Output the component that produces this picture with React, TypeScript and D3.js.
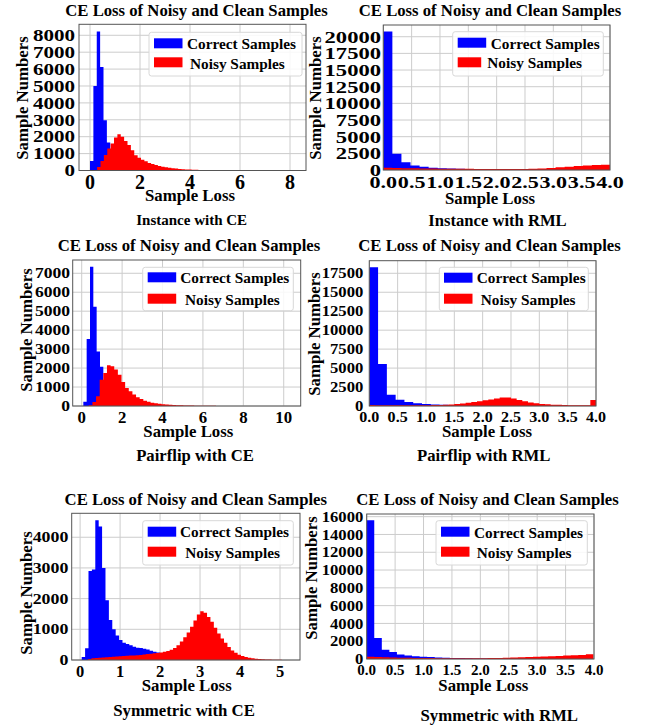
import React from 'react';
import * as d3 from 'd3';

const FONT = '"Liberation Serif", "Times New Roman", Times, serif';
const BLUE = '#0000ff';
const RED = '#ff0000';

// ---- Instance with CE ----
const instCeXTicks = [0, 2, 4, 6, 8];
const instCeYTicks = [0, 1000, 2000, 3000, 4000, 5000, 6000, 7000, 8000];
const instCeBlueStart = 0;
const instCeBlueWidth = 0.135;
const instCeBlue = [560, 5000, 8220, 6120, 2970, 1650, 820, 420, 210, 110, 55, 25, 12, 6];
const instCeRedStart = 0.15;
const instCeRedWidth = 0.135;
const instCeRed = [
  30, 200, 560, 920, 1300, 1600, 1950, 2140, 1990, 1750,
  1510, 1200, 900, 760, 640, 540, 450, 380, 320, 270,
  225, 190, 160, 135, 112, 93, 78, 65, 54, 45,
  38, 32, 27, 22, 18, 15, 12, 10, 8, 7,
  6, 5, 4, 3, 3, 2, 2, 2, 1, 1,
  1, 1, 1, 1, 1, 1, 1, 1, 1, 1,
];

// ---- Instance with RML ----
const rmlXTicks = [0, 0.5, 1, 1.5, 2, 2.5, 3, 3.5, 4];
const instRmlYTicks = [0, 2500, 5000, 7500, 10000, 12500, 15000, 17500, 20000];
const instRmlBlueStart = 0;
const instRmlBlueWidth = 0.16;
const instRmlBlue = [20800, 2450, 1150, 680, 480, 350, 260, 210, 170, 130, 100, 80, 60, 45, 35, 25, 20, 15, 10, 8, 6, 5, 4, 3, 2];
const instRmlRedStart = 0;
const instRmlRedWidth = 0.16;
const instRmlRed = [320, 300, 280, 250, 230, 210, 200, 190, 180, 170, 160, 155, 150, 150, 150, 160, 190, 240, 310, 400, 500, 600, 680, 750, 800];

// ---- Pairflip with CE ----
const pairCeXTicks = [0, 2, 4, 6, 8, 10];
const pairCeYTicks = [0, 1000, 2000, 3000, 4000, 5000, 6000, 7000];
const pairCeBlueStart = 0.08;
const pairCeBlueWidth = 0.165;
const pairCeBlue = [230, 3540, 7350, 5240, 2870, 2070, 1200, 600, 300, 150, 80, 40, 20, 10];
const pairCeRedStart = 0.35;
const pairCeRedWidth = 0.18;
const pairCeRed = [
  40, 210, 510, 1390, 1740, 2150, 2095, 1920, 1650, 1270,
  950, 775, 600, 460, 370, 280, 230, 175, 140, 115,
  95, 80, 65, 55, 45, 38, 32, 27, 22, 18,
  15, 12, 10, 8, 7, 6, 5, 4, 3, 3,
  2, 2, 2, 1, 1, 1, 1, 1, 1, 1,
  1, 1, 1, 1, 1, 1,
];

// ---- Pairflip with RML ----
const pairRmlYTicks = [0, 2500, 5000, 7500, 10000, 12500, 15000, 17500];
const pairRmlBlueStart = 0;
const pairRmlBlueWidth = 0.155;
const pairRmlBlue = [18290, 5540, 1490, 830, 530, 350, 260, 200, 150, 110, 80, 60, 45, 35, 25, 20, 15, 12, 10, 8, 6, 5, 4, 3, 2, 2];
const pairRmlRedStart = 0;
const pairRmlRedWidth = 0.1;
const pairRmlRed = [
  120, 110, 100, 95, 90, 85, 85, 85, 90, 95,
  105, 120, 140, 170, 210, 260, 330, 420, 520, 620,
  760, 860, 980, 1130, 1120, 980, 800, 620, 470, 360,
  280, 220, 180, 150, 130, 115, 105, 100, 100, 800,
];

// ---- Symmetric with CE ----
const symCeXTicks = [0, 1, 2, 3, 4, 5];
const symCeYTicks = [0, 1000, 2000, 3000, 4000];
const symCeBlueStart = 0.04;
const symCeBlueWidth = 0.085;
const symCeBlue = [
  100, 380, 2900, 2950, 4550, 4350, 3000, 1950, 1300, 1000,
  800, 650, 560, 520, 480, 430, 400, 390, 370, 340,
  300, 270, 245, 225, 200, 170, 140, 110, 90, 70,
  50, 35, 25, 15, 10, 6, 4, 2, 1,
];
const symCeRedStart = 0.2;
const symCeRedWidth = 0.085;
const symCeRed = [
  30, 55, 65, 75, 80, 90, 95, 105, 110, 120,
  128, 135, 143, 150, 158, 165, 180, 192, 203, 218,
  232, 248, 268, 290, 330, 395, 480, 600, 740, 900,
  1080, 1290, 1480, 1590, 1540, 1400, 1250, 1050, 860, 700,
  560, 420, 310, 240, 175, 130, 95, 72, 55, 42,
  32, 25, 19, 14, 10, 8, 6, 4, 3, 2,
];

// ---- Symmetric with RML ----
const symRmlYTicks = [0, 2000, 4000, 6000, 8000, 10000, 12000, 14000, 16000];
const symRmlBlueStart = 0;
const symRmlBlueWidth = 0.133;
const symRmlBlue = [15600, 2360, 1050, 790, 500, 390, 320, 260, 220, 180, 150, 120, 100, 85, 70, 60, 50, 42, 35, 28, 22, 18, 15, 12, 10, 8, 6, 5, 4, 3];
const symRmlRedStart = 0;
const symRmlRedWidth = 0.133;
const symRmlRed = [260, 220, 190, 170, 150, 135, 120, 110, 100, 95, 90, 88, 86, 85, 86, 90, 100, 115, 135, 160, 190, 220, 255, 290, 320, 350, 385, 420, 460, 520];

const TITLE = 'CE Loss of Noisy and Clean Samples';

type Hist = { start: number; width: number; counts: number[] };
type Legend = {
  x: number; y: number; w: number; h: number; px: number; by: number; ry: number;
  bw: number; rw: number; t1: number; t2: number; ty1: number; ty2: number;
};
type PanelCfg = {
  id: string;
  caption: string;
  blue: Hist;
  red: Hist;
  xTicks: number[];
  yTicks: number[];
  xFmt: (v: number) => string;
  plot: [number, number, number, number];
  xDomain: [number, number];
  yMax: number;
  titleX: number; titleY: number;
  yTickRight: number; yTickFont: number; yTickSx: number;
  xTickY: number; xTickFont: number; xTickSx: number;
  xLabelX: number; xLabelY: number;
  yLabelX: number; yLabelY: number;
  capX: number; capY: number; capFont: number;
  legend: Legend;
};

const intFmt = (v: number) => String(v);
const oneFmt = (v: number) => v.toFixed(1);

const panels: PanelCfg[] = [
  {
    id: 'p1', caption: 'Instance with CE',
    blue: { start: instCeBlueStart, width: instCeBlueWidth, counts: instCeBlue },
    red: { start: instCeRedStart, width: instCeRedWidth, counts: instCeRed },
    xTicks: instCeXTicks, yTicks: instCeYTicks, xFmt: intFmt,
    plot: [79, 24.3, 306, 170.5], xDomain: [-0.44, 8.64], yMax: 8650,
    titleX: 196.5, titleY: 10.5,
    yTickRight: 75, yTickFont: 17, yTickSx: 1.24,
    xTickY: 181.7, xTickFont: 20, xTickSx: 1,
    xLabelX: 190, xLabelY: 195.5, yLabelX: 22, yLabelY: 98,
    capX: 191.7, capY: 220, capFont: 15,
    legend: { x: 149, y: 32.3, w: 153, h: 43.7, px: 154, by: 38.3, ry: 57.3, bw: 28.5, rw: 28.5, t1: 187, t2: 190, ty1: 43.3, ty2: 63 },
  },
  {
    id: 'p2', caption: 'Instance with RML',
    blue: { start: instRmlBlueStart, width: instRmlBlueWidth, counts: instRmlBlue },
    red: { start: instRmlRedStart, width: instRmlRedWidth, counts: instRmlRed },
    xTicks: rmlXTicks, yTicks: instRmlYTicks, xFmt: oneFmt,
    plot: [383.3, 25, 610, 170], xDomain: [0, 4], yMax: 21760,
    titleX: 490, titleY: 10.5,
    yTickRight: 381, yTickFont: 17.5, yTickSx: 1.29,
    xTickY: 182.3, xTickFont: 17, xTickSx: 1.3,
    xLabelX: 490, xLabelY: 198, yLabelX: 315, yLabelY: 98,
    capX: 497.5, capY: 220, capFont: 16.6,
    legend: { x: 452.7, y: 31.7, w: 150.6, h: 44.3, px: 457.7, by: 37.7, ry: 57.3, bw: 28.5, rw: 23.5, t1: 490.7, t2: 487.3, ty1: 43.3, ty2: 62.3 },
  },
  {
    id: 'p3', caption: 'Pairflip with CE',
    blue: { start: pairCeBlueStart, width: pairCeBlueWidth, counts: pairCeBlue },
    red: { start: pairCeRedStart, width: pairCeRedWidth, counts: pairCeRed },
    xTicks: pairCeXTicks, yTicks: pairCeYTicks, xFmt: intFmt,
    plot: [72.7, 260, 300.7, 406], xDomain: [-0.446, 10.84], yMax: 7700,
    titleX: 189, titleY: 245.3,
    yTickRight: 70, yTickFont: 15, yTickSx: 1.17,
    xTickY: 417.3, xTickFont: 16, xTickSx: 1.05,
    xLabelX: 188.3, xLabelY: 431, yLabelX: 26.7, yLabelY: 330,
    capX: 195, capY: 455, capFont: 16.7,
    legend: { x: 142.7, y: 267.3, w: 150.6, h: 43.4, px: 147.7, by: 272.3, ry: 293.7, bw: 28.5, rw: 28.5, t1: 180.3, t2: 185, ty1: 277.3, ty2: 299 },
  },
  {
    id: 'p4', caption: 'Pairflip with RML',
    blue: { start: pairRmlBlueStart, width: pairRmlBlueWidth, counts: pairRmlBlue },
    red: { start: pairRmlRedStart, width: pairRmlRedWidth, counts: pairRmlRed },
    xTicks: rmlXTicks, yTicks: pairRmlYTicks, xFmt: oneFmt,
    plot: [369.3, 260.7, 596, 406], xDomain: [0, 4], yMax: 19160,
    titleX: 489.5, titleY: 245.3,
    yTickRight: 363.3, yTickFont: 15, yTickSx: 1.11,
    xTickY: 416.7, xTickFont: 15, xTickSx: 1.07,
    xLabelX: 487, xLabelY: 431, yLabelX: 314.3, yLabelY: 334,
    capX: 483.7, capY: 455, capFont: 16.7,
    legend: { x: 439.3, y: 267.3, w: 149, h: 43.4, px: 444, by: 272.7, ry: 293.7, bw: 28.5, rw: 28.5, t1: 476.7, t2: 480.7, ty1: 277.7, ty2: 299.3 },
  },
  {
    id: 'p5', caption: 'Symmetric with CE',
    blue: { start: symCeBlueStart, width: symCeBlueWidth, counts: symCeBlue },
    red: { start: symCeRedStart, width: symCeRedWidth, counts: symCeRed },
    xTicks: symCeXTicks, yTicks: symCeYTicks, xFmt: intFmt,
    plot: [71.7, 513.3, 300, 660], xDomain: [-0.21, 5.5], yMax: 4780,
    titleX: 195.8, titleY: 499.5,
    yTickRight: 68.3, yTickFont: 15, yTickSx: 1.19,
    xTickY: 671, xTickFont: 16.5, xTickSx: 1,
    xLabelX: 186.7, xLabelY: 685.5, yLabelX: 26.7, yLabelY: 593,
    capX: 184, capY: 710, capFont: 16.8,
    legend: { x: 142.7, y: 520.7, w: 150.6, h: 44.3, px: 147.7, by: 526.7, ry: 546.7, bw: 28.5, rw: 28.5, t1: 180, t2: 185.3, ty1: 531.7, ty2: 552.3 },
  },
  {
    id: 'p6', caption: 'Symmetric with RML',
    blue: { start: symRmlBlueStart, width: symRmlBlueWidth, counts: symRmlBlue },
    red: { start: symRmlRedStart, width: symRmlRedWidth, counts: symRmlRed },
    xTicks: rmlXTicks, yTicks: symRmlYTicks, xFmt: oneFmt,
    plot: [366.7, 514, 594, 659], xDomain: [0, 4], yMax: 16300,
    titleX: 487.5, titleY: 499.5,
    yTickRight: 363.3, yTickFont: 15, yTickSx: 1.11,
    xTickY: 670, xTickFont: 15, xTickSx: 1,
    xLabelX: 483.3, xLabelY: 685.5, yLabelX: 311.7, yLabelY: 578,
    capX: 499.3, capY: 715, capFont: 16.8,
    legend: { x: 436, y: 520.7, w: 151.3, h: 44.3, px: 441, by: 526.7, ry: 546.7, bw: 28.5, rw: 28.5, t1: 474, t2: 476.7, ty1: 532.3, ty2: 552.3 },
  },
];

function histPath(h: Hist, x: d3.ScaleLinear<number, number>, y: d3.ScaleLinear<number, number>) {
  const pts: [number, number][] = h.counts.map((c, i) => [h.start + i * h.width, c]);
  pts.push([h.start + h.counts.length * h.width, h.counts[h.counts.length - 1]]);
  const area = d3.area<[number, number]>()
    .x(d => x(d[0]))
    .y0(y(0))
    .y1(d => y(d[1]))
    .curve(d3.curveStepAfter);
  return area(pts) || '';
}

const Panel = ({ p }: { p: PanelCfg }) => {
  const [l, t, r, b] = p.plot;
  const x = d3.scaleLinear().domain(p.xDomain).range([l, r]);
  const y = d3.scaleLinear().domain([0, p.yMax]).range([b, t]);
  const lg = p.legend;
  return (
    <g fontFamily={FONT} fontWeight="bold" fill="#000">
      <defs>
        <clipPath id={`clip-${p.id}`}>
          <rect x={l} y={t} width={r - l} height={b - t} />
        </clipPath>
      </defs>
      <text x={p.titleX} y={p.titleY} textAnchor="middle" dominantBaseline="central" fontSize={16.7}>{TITLE}</text>
      <rect x={l} y={t} width={r - l} height={b - t} fill="#fff" />
      {p.xTicks.map(v => (
        <line key={`gx${v}`} x1={x(v)} x2={x(v)} y1={t} y2={b} stroke="#cccccc" strokeWidth={1} />
      ))}
      {p.yTicks.map(v => (
        <line key={`gy${v}`} x1={l} x2={r} y1={y(v)} y2={y(v)} stroke="#cccccc" strokeWidth={1} />
      ))}
      <g clipPath={`url(#clip-${p.id})`}>
        <path d={histPath(p.blue, x, y)} fill={BLUE} />
        <path d={histPath(p.red, x, y)} fill={RED} />
      </g>
      <rect x={l} y={t} width={r - l} height={b - t} fill="none" stroke="#555" strokeWidth={1} />
      {p.yTicks.map(v => (
        <text key={`ty${v}`} transform={`translate(${p.yTickRight},${y(v)}) scale(${p.yTickSx},1)`}
          textAnchor="end" dominantBaseline="central" fontSize={p.yTickFont}>{v}</text>
      ))}
      {p.xTicks.map(v => (
        <text key={`tx${v}`} transform={`translate(${x(v)},${p.xTickY}) scale(${p.xTickSx},1)`}
          textAnchor="middle" dominantBaseline="central" fontSize={p.xTickFont}>{p.xFmt(v)}</text>
      ))}
      <text x={p.xLabelX} y={p.xLabelY} textAnchor="middle" dominantBaseline="central" fontSize={16.8}>Sample Loss</text>
      <text transform={`translate(${p.yLabelX},${p.yLabelY}) rotate(-90)`} textAnchor="middle" dominantBaseline="central" fontSize={16.8}>Sample Numbers</text>
      <rect x={lg.x} y={lg.y} width={lg.w} height={lg.h} rx={2.5} fill="#fff" fillOpacity={0.85} stroke="#d8d8d8" strokeWidth={1} />
      <rect x={lg.px} y={lg.by} width={lg.bw} height={10} fill={BLUE} />
      <rect x={lg.px} y={lg.ry} width={lg.rw} height={10} fill={RED} />
      <text x={lg.t1} y={lg.ty1} dominantBaseline="central" fontSize={15.3}>Correct Samples</text>
      <text x={lg.t2} y={lg.ty2} dominantBaseline="central" fontSize={15.3}>Noisy Samples</text>
      <text x={p.capX} y={p.capY} textAnchor="middle" dominantBaseline="central" fontSize={p.capFont}>{p.caption}</text>
    </g>
  );
};

export default function App() {
  return (
    <svg width={650} height={728} style={{ position: 'absolute', left: 0, top: 0, background: '#fff' }}>
      <rect width={650} height={728} fill="#fff" />
      {panels.map(p => <Panel key={p.id} p={p} />)}
    </svg>
  );
}
